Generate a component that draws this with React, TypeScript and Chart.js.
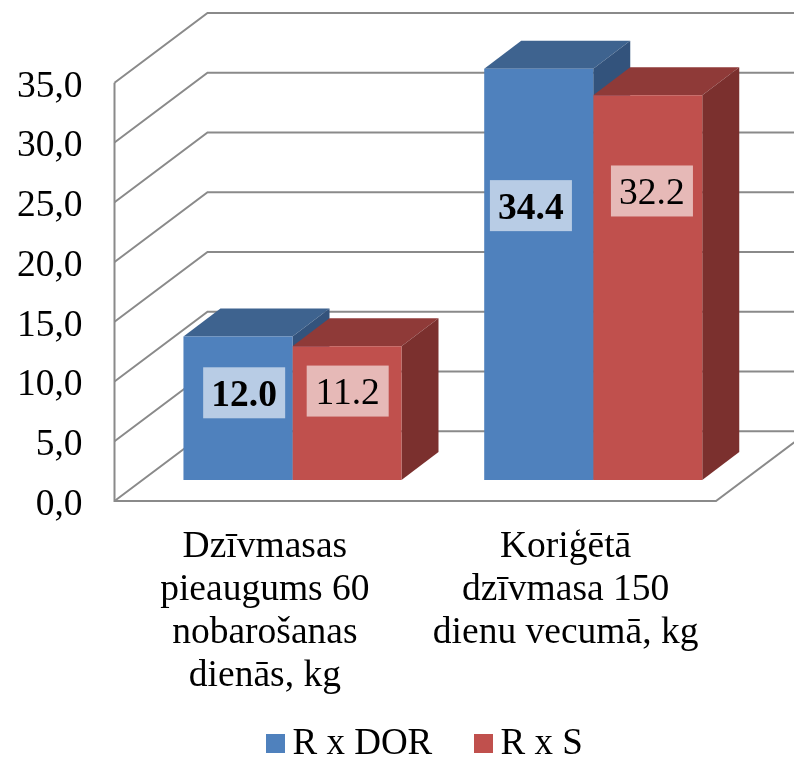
import React, { useEffect, useRef } from "react";
import { Chart, registerables } from "chart.js";

Chart.register(...registerables);

const categories: (string | string[])[] = [
  ["Dzīvmasas", "pieaugums 60", "nobarošanas", "dienās, kg"],
  ["Koriģētā", "dzīvmasa 150", "dienu vecumā, kg"],
];
const seriesNames = ["R x DOR", "R x S"];
const dorValues = [12.0, 34.4];
const sValues = [11.2, 32.2];
const yTickLabels = ["0,0", "5,0", "10,0", "15,0", "20,0", "25,0", "30,0", "35,0"];

const FONT = '"Liberation Serif", "Times New Roman", serif';
const FONT_SIZE = 37.5;
const GRID = "#8a8a8a";
const FRONT = ["#4F81BD", "#C0504D"];
const TOP = ["#3E638F", "#8F3A38"];
const SIDE = ["#33537C", "#7B302E"];
const WALL = { dx: 93, dy: -69.7 };
const BAR_SHIFT = { dx: 27.6, dy: -21 };
const BAR_DEPTH = { dx: 37, dy: -28 };
const LABEL_NUDGE = [
  [{ x: 6.2, y: -15.5 }, { x: -7.8, y: -68.8 }],
  [{ x: 0.7, y: -22 }, { x: 4.2, y: -96.6 }],
];
const LEGEND_X = [266, 474];
const LEGEND_Y = 734;
const LEGEND_BOX = 19;
const Y_LABEL_DROP = 4;

const frame3d = {
  id: "frame3d",
  beforeDraw(chart: any) {
    const items = chart.scales.y.getLabelItems();
    if (!items.__dropped) {
      items.forEach((it: any) => { it.options.translation[1] += Y_LABEL_DROP; });
      items.__dropped = true;
    }
  },
  beforeDatasetsDraw(chart: any) {
    const { ctx, chartArea, scales } = chart;
    const y = scales.y;
    const { left, right } = chartArea;
    const y0 = y.getPixelForValue(0);
    const y35 = y.getPixelForValue(35);
    ctx.save();
    ctx.strokeStyle = GRID;
    ctx.lineWidth = 2;
    y.ticks.forEach((t: any) => {
      const p = y.getPixelForValue(t.value);
      ctx.beginPath();
      ctx.moveTo(left, p);
      ctx.lineTo(left + WALL.dx, p + WALL.dy);
      ctx.lineTo(chart.width, p + WALL.dy);
      ctx.stroke();
    });
    ctx.beginPath();
    ctx.moveTo(left, y35);
    ctx.lineTo(left, y0);
    ctx.lineTo(right, y0);
    ctx.lineTo(right + WALL.dx, y0 + WALL.dy);
    ctx.stroke();

    chart.data.labels.forEach((_: any, i: number) => {
      chart.data.datasets.forEach((_d: any, ds: number) => {
        const bar = chart.getDatasetMeta(ds).data[i];
        const { x, y: top, base, width } = bar.getProps(["x", "y", "base", "width"], true);
        const l = x - width / 2 + BAR_SHIFT.dx;
        const r = x + width / 2 + BAR_SHIFT.dx;
        const t = top + BAR_SHIFT.dy;
        const b = base + BAR_SHIFT.dy;
        ctx.fillStyle = TOP[ds];
        ctx.beginPath();
        ctx.moveTo(l, t);
        ctx.lineTo(l + BAR_DEPTH.dx, t + BAR_DEPTH.dy);
        ctx.lineTo(r + BAR_DEPTH.dx, t + BAR_DEPTH.dy);
        ctx.lineTo(r, t);
        ctx.closePath();
        ctx.fill();
        ctx.fillStyle = SIDE[ds];
        ctx.beginPath();
        ctx.moveTo(r, t);
        ctx.lineTo(r + BAR_DEPTH.dx, t + BAR_DEPTH.dy);
        ctx.lineTo(r + BAR_DEPTH.dx, b + BAR_DEPTH.dy);
        ctx.lineTo(r, b);
        ctx.closePath();
        ctx.fill();
      });
    });
    ctx.restore();
    ctx.save();
    ctx.translate(BAR_SHIFT.dx, BAR_SHIFT.dy);
  },
  afterDatasetsDraw(chart: any) {
    const { ctx } = chart;
    ctx.restore();
    ctx.save();
    ctx.textAlign = "center";
    ctx.textBaseline = "alphabetic";
    chart.data.datasets.forEach((d: any, ds: number) => {
      ctx.font = `${ds === 0 ? "bold " : ""}${FONT_SIZE}px ${FONT}`;
      chart.getDatasetMeta(ds).data.forEach((bar: any, i: number) => {
        const { x, y, base } = bar.getProps(["x", "y", "base"], true);
        const n = LABEL_NUDGE[ds][i];
        const cx = x + BAR_SHIFT.dx + n.x;
        const cy = (y + base) / 2 + BAR_SHIFT.dy + n.y;
        ctx.fillStyle = "rgba(255,255,255,0.6)";
        ctx.fillRect(cx - 41, cy - 25.5, 82, 51);
        ctx.fillStyle = "#000";
        ctx.fillText(d.data[i].toFixed(1), cx, cy + 13);
      });
    });
    ctx.font = `37px ${FONT}`;
    ctx.textAlign = "left";
    chart.data.datasets.forEach((d: any, ds: number) => {
      ctx.fillStyle = FRONT[ds];
      ctx.fillRect(LEGEND_X[ds], LEGEND_Y, LEGEND_BOX, LEGEND_BOX);
      ctx.fillStyle = "#000";
      ctx.fillText(d.label, LEGEND_X[ds] + LEGEND_BOX + 7.5, LEGEND_Y + 20);
    });
    ctx.restore();
  },
};

export default function App() {
  const ref = useRef<HTMLCanvasElement>(null);
  useEffect(() => {
    const chart = new Chart(ref.current as HTMLCanvasElement, {
      type: "bar",
      data: {
        labels: categories as any,
        datasets: [
          { label: seriesNames[0], data: dorValues, backgroundColor: FRONT[0] },
          { label: seriesNames[1], data: sValues, backgroundColor: FRONT[1] },
        ],
      },
      options: {
        responsive: false,
        animation: false,
        devicePixelRatio: 1,
        layout: { padding: { top: 82.7, right: 78, left: 0, bottom: 0 } },
        datasets: { bar: { categoryPercentage: 0.725, barPercentage: 1, clip: false as any } },
        plugins: { legend: { display: false }, tooltip: { enabled: false }, title: { display: false } },
        scales: {
          x: {
            grid: { display: false },
            border: { display: false },
            afterFit: (s: any) => { s.height = 256; },
            ticks: {
              autoSkip: false,
              maxRotation: 0,
              minRotation: 0,
              padding: 16.2,
              color: "#000",
              font: { family: FONT, size: FONT_SIZE, lineHeight: 1.147 },
            },
          },
          y: {
            min: 0,
            max: 35,
            grid: { display: false },
            border: { display: false },
            afterFit: (s: any) => { s.width = 114.5; },
            ticks: {
              stepSize: 5,
              padding: 24,
              color: "#000",
              font: { family: FONT, size: FONT_SIZE },
              callback: (_v: any, i: number) => yTickLabels[i],
            },
          },
        },
      },
      plugins: [frame3d],
    } as any);
    return () => chart.destroy();
  }, []);
  return (
    <div style={{ position: "absolute", left: 0, top: 0, width: 794, height: 757, overflow: "hidden" }}>
      <canvas ref={ref} width={794} height={757} style={{ display: "block" }} />
    </div>
  );
}
